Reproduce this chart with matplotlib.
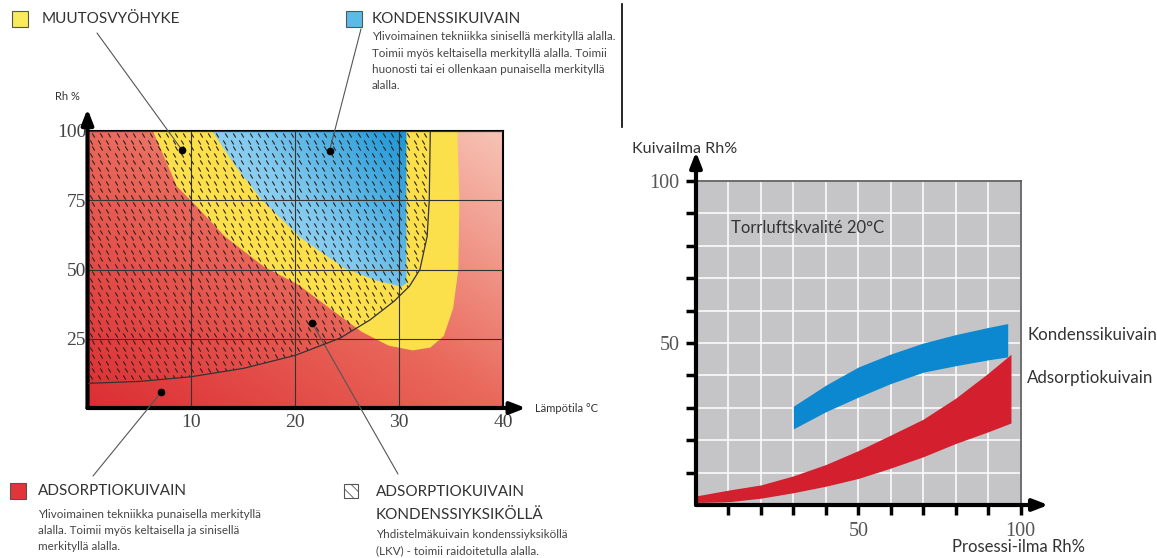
import numpy as np
import matplotlib

matplotlib.use("Agg")
import matplotlib.pyplot as plt
from matplotlib.colors import LinearSegmentedColormap
from matplotlib.lines import Line2D
from matplotlib.patches import Polygon, Rectangle
from matplotlib.path import Path

# ---- left chart: operating zones (temperature vs Rh) ----
yellow_t = [6.3, 8.6, 10.2, 13.2, 17.0, 20.3, 23.5, 26.4, 29.0, 31.3, 33.0, 34.3, 35.2, 35.7, 35.8, 35.6]
yellow_rh = [100, 80, 74, 62, 51, 44.5, 35.5, 27.5, 22.5, 20.8, 21.8, 26, 36, 50, 75, 100]

blue_t = [12.0, 14.3, 16.8, 20.5, 24.7, 27.8, 30.2, 30.7, 30.7]
blue_rh = [100, 87, 75, 61.5, 50.5, 46, 43.8, 45, 100]

hatch_t = [0, 5, 10, 15, 20, 24.3, 27.2, 29.5, 31.0, 32.0, 32.7, 32.9, 33.0]
hatch_rh = [8.9, 9.6, 11.3, 14.3, 19, 25.2, 31.8, 38.5, 44, 50, 62, 75, 100]

dot_t = [9.1, 23.3, 7.1, 21.6]
dot_rh = [93.1, 92.9, 5.7, 30.8]

temp_ticks = [10, 20, 30, 40]
rh_ticks = [25, 50, 75, 100]

# ---- right chart: dry-air quality at 20 C ----
kond_x = [30, 40, 50, 60, 70, 80, 90, 96]
kond_hi = [30.5, 37.0, 42.6, 46.6, 50.0, 52.6, 54.8, 56.0]
kond_lo = [23.5, 28.8, 33.3, 37.5, 41.0, 43.0, 44.8, 45.7]

ads_x = [0, 10, 20, 30, 40, 50, 60, 70, 80, 90, 97]
ads_hi = [2.8, 4.6, 6.2, 9.0, 12.5, 16.8, 21.6, 26.5, 33.0, 40.7, 46.5]
ads_lo = [0.8, 1.0, 2.1, 3.8, 5.8, 8.2, 11.4, 14.9, 19.0, 22.6, 25.3]

proc_ticks = list(range(10, 101, 10))
proc_labels = ["" if v not in (50, 100) else str(v) for v in proc_ticks]

W, H = 1157, 558
plt.rcParams["font.family"] = ["Lato", "DejaVu Sans"]
fig = plt.figure(figsize=(W / 100, H / 100), dpi=100)


def fx(x):
    return x / W


def fy(y):
    return 1 - y / H


TXT = "#333333"
SUB = "#444444"

# ================= left chart =================
ax = fig.add_axes([fx(87.5), fy(408), (503 - 87.5) / W, (408 - 131) / H])
ax.set_xlim(0, 40)
ax.set_ylim(0, 100)

tt, rr = np.meshgrid(np.linspace(0, 40, 240), np.linspace(0, 100, 240))
red_cmap = LinearSegmentedColormap.from_list("red", ["#dc2e34", "#e9685b", "#f7c4b6"])
ax.imshow((tt / 40 + rr / 100) / 2, origin="lower", extent=[0, 40, 0, 100],
          aspect="auto", cmap=red_cmap, zorder=0)

ax.add_patch(Polygon(np.column_stack([yellow_t, yellow_rh]), closed=True,
                     fc="#fbe04b", ec="none", zorder=1))

blue_patch = Polygon(np.column_stack([blue_t, blue_rh]), closed=True, fc="none", ec="none")
ax.add_patch(blue_patch)
blue_cmap = LinearSegmentedColormap.from_list("blue", ["#b8e2f6", "#80c9ee", "#1893d4"])
bgrad = np.clip(0.6 * (tt - 12) / 19 + 0.4 * (rr - 43) / 57, 0, 1)
im = ax.imshow(bgrad, origin="lower", extent=[0, 40, 0, 100], aspect="auto",
               cmap=blue_cmap, zorder=2)
im.set_clip_path(blue_patch)

# dashed texture of the combined-dryer zone
hatch_patch = Polygon(np.column_stack([hatch_t + [0], hatch_rh + [100]]), closed=True,
                      fc="none", ec="none")
ax.add_patch(hatch_patch)
hx, hy = np.meshgrid(np.arange(0.3, 40, 0.8), np.arange(1.2, 100, 2.5))
hx[1::2] += 0.2
dash = Path([(-0.3, 0.5), (0.3, -0.5)], [Path.MOVETO, Path.LINETO])
dl, = ax.plot(hx.ravel(), hy.ravel(), ls="none", marker=dash, ms=3.0, mew=0.8,
              mec="#2e2222", zorder=3)
dl.set_clip_path(hatch_patch)
ax.plot(hatch_t, hatch_rh, color="#333333", lw=0.9, zorder=4)

ax.set_xticks(temp_ticks)
ax.set_yticks(rh_ticks)
ax.set_axisbelow(False)
ax.grid(True, color="#333333", lw=0.8)
ax.tick_params(length=0, labelsize=14, colors="#444444", pad=1)
ax.tick_params(axis="x", pad=4)
for lbl in ax.get_xticklabels() + ax.get_yticklabels():
    lbl.set_fontfamily("Liberation Serif")
for s in ("top", "right"):
    ax.spines[s].set_linewidth(1.5)
for s in ("left", "bottom"):
    ax.spines[s].set_visible(False)

arrow = dict(arrowstyle="-|>,head_length=0.9,head_width=0.35", lw=3, color="k",
             shrinkA=0, shrinkB=0)
ax.annotate("", xy=(1.055, 0), xytext=(0, 0), xycoords="axes fraction", arrowprops=arrow,
            annotation_clip=False)
ax.annotate("", xy=(0, 1.08), xytext=(0, 0), xycoords="axes fraction", arrowprops=arrow,
            annotation_clip=False)

ax.plot(dot_t, dot_rh, "o", color="k", ms=4.5, zorder=6)
leader_ends = [(97, 33), (361, 29), (93, 476), (398, 474)]
for t, r, (lx, ly) in zip(dot_t, dot_rh, leader_ends):
    ax.annotate("", xy=(t, r), xytext=(lx, H - ly), textcoords="figure pixels",
                arrowprops=dict(arrowstyle="-", color="#555555", lw=0.8, shrinkA=0, shrinkB=0),
                annotation_clip=False)

fig.text(fx(55), fy(97), "Rh %", size=8, color=TXT, va="center")
fig.text(fx(535), fy(408), "Lämpötila °C", size=8, color=TXT, va="center")


# legend squares
def square(x0, y0, size, fc, hatch=None):
    fig.add_artist(Rectangle((fx(x0), fy(y0 + size)), size / W, size / H,
                             transform=fig.transFigure, fc=fc, ec="#555555", lw=0.8,
                             hatch=hatch))


square(12, 11, 16, "#f9ea5e")
square(346, 11, 16, "#5bbbe8")
square(10, 483, 16, "#e1353b")
plt.rcParams["hatch.linewidth"] = 0.6
plt.rcParams["hatch.color"] = "#666666"
square(344, 484, 14, "white", hatch="\\\\\\")

fig.text(fx(42), fy(19), "MUUTOSVYÖHYKE", size=11, color=TXT, va="center")
fig.text(fx(372), fy(19), "KONDENSSIKUIVAIN", size=11, color=TXT, va="center")
kond_lines = ["Ylivoimainen tekniikka sinisellä merkityllä alalla.",
              "Toimii myös keltaisella merkityllä alalla. Toimii",
              "huonosti tai ei ollenkaan punaisella merkityllä",
              "alalla."]
for i, s in enumerate(kond_lines):
    fig.text(fx(372), fy(37 + 16.3 * i), s, size=8.4, color=SUB, va="center")

fig.text(fx(38), fy(491), "ADSORPTIOKUIVAIN", size=11, color=TXT, va="center")
ads_lines = ["Ylivoimainen tekniikka punaisella merkityllä",
             "alalla. Toimii myös keltaisella ja sinisellä",
             "merkityllä alalla."]
for i, s in enumerate(ads_lines):
    fig.text(fx(38), fy(514 + 16.3 * i), s, size=8.4, color=SUB, va="center")

fig.text(fx(376), fy(492), "ADSORPTIOKUIVAIN", size=11, color=TXT, va="center")
fig.text(fx(376), fy(515), "KONDENSSIYKSIKÖLLÄ", size=11, color=TXT, va="center")
lkv_lines = ["Yhdistelmäkuivain kondenssiyksiköllä",
             "(LKV) - toimii raidoitetulla alalla."]
for i, s in enumerate(lkv_lines):
    fig.text(fx(376), fy(534 + 16.3 * i), s, size=8.4, color=SUB, va="center")

fig.add_artist(Line2D([fx(622), fx(622)], [fy(4), fy(127)], transform=fig.transFigure,
                      color="k", lw=1.2))

# ================= right chart =================
ax2 = fig.add_axes([fx(696), fy(505), 324.7 / W, 324 / H])
ax2.set_xlim(0, 100)
ax2.set_ylim(0, 100)
ax2.set_facecolor("#c5c5c8")
ax2.set_xticks(proc_ticks)
ax2.set_xticklabels(proc_labels)
ax2.set_yticks(proc_ticks)
ax2.set_yticklabels(proc_labels)
ax2.grid(True, color="white", lw=1.1)
ax2.tick_params(direction="out", length=7, width=2.5, color="k", labelsize=14.5,
                labelcolor="#555555", pad=5)
for lbl in ax2.get_xticklabels() + ax2.get_yticklabels():
    lbl.set_fontfamily("Liberation Serif")
for s in ("top", "right"):
    ax2.spines[s].set_linewidth(1.2)
    ax2.spines[s].set_color("#555555")
for s in ("left", "bottom"):
    ax2.spines[s].set_visible(False)

ax2.fill_between(kond_x, kond_lo, kond_hi, color="#0b88d0", lw=0, zorder=3)
ax2.fill_between(ads_x, ads_lo, ads_hi, color="#d41f2e", lw=0, zorder=3)

ax2.annotate("", xy=(1.085, 0), xytext=(0, 0), xycoords="axes fraction", arrowprops=arrow,
             annotation_clip=False)
ax2.annotate("", xy=(0, 1.09), xytext=(0, 0), xycoords="axes fraction", arrowprops=arrow,
             annotation_clip=False)

ax2.text(10.8, 85.5, "Torrluftskvalité 20°C", size=12, color=TXT, va="center")
ax2.text(102, 52.5, "Kondenssikuivain", size=12.2, color=TXT, va="center", clip_on=False)
ax2.text(102, 39.2, "Adsorptiokuivain", size=12.2, color=TXT, va="center", clip_on=False)
fig.text(fx(632), fy(149), "Kuivailma Rh%", size=11.6, color=TXT, va="center")
fig.text(fx(1085), fy(547), "Prosessi-ilma Rh%", size=12, color=TXT, va="center", ha="right")

fig.savefig("out.png", dpi=100)
